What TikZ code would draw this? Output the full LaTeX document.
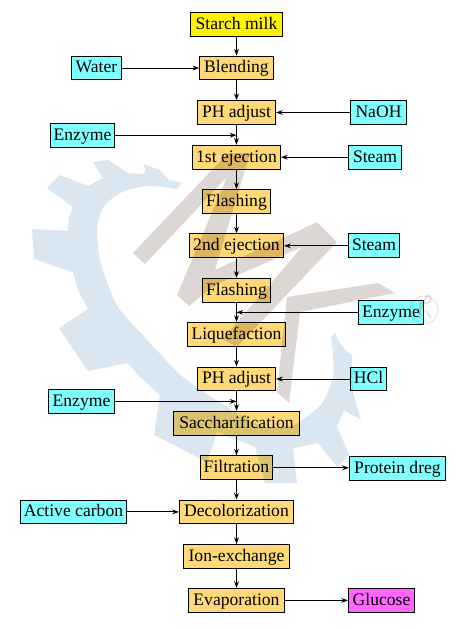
\documentclass[tikz,border=0pt]{standalone}
\usepackage{fontspec}
\setmainfont{Liberation Serif}
\usepackage{xcolor}
\usetikzlibrary{arrows.meta}
\definecolor{procfill}{HTML}{FFD978}
\definecolor{feedfill}{HTML}{80FFFF}
\definecolor{outfill}{HTML}{FF66FF}
\definecolor{gearblue}{HTML}{DAE6F0}
\definecolor{markgray}{HTML}{DCD7D4}
\tikzset{
box/.style={draw=black,line width=.8pt,inner xsep=0pt,inner ysep=2.6pt,text height=10pt,text depth=2.6pt,
font=\fontsize{13.2}{15}\selectfont},
proc/.style={box,fill=procfill},
feed/.style={box,fill=feedfill},
flow/.style={line width=.75pt,-{Stealth[length=5pt,width=3.6pt]}}
}
\begin{document}
\begin{tikzpicture}[x=.75pt,y=-.75pt]
\useasboundingbox (0,0) rectangle (470,629);
\fill[white](0,0) rectangle (470,629);
\node[box,fill=yellow,minimum width=69pt](starch)at(236.5,24.2){Starch milk};
\node[proc,minimum width=55pt](blend)at(236.5,68){Blending};
\node[proc,minimum width=58.5pt](pha)at(236.5,112.5){PH adjust};
\node[proc,minimum width=66pt](ejecta)at(236.5,157.2){1st ejection};
\node[proc,minimum width=51pt](flasha)at(236.5,201.5){Flashing};
\node[proc,minimum width=70.5pt](ejectb)at(236.5,245.8){2nd ejection};
\node[proc,minimum width=51pt](flashb)at(236.5,290.3){Flashing};
\node[proc,minimum width=73.5pt](liq)at(236.5,334.4){Liquefaction};
\node[proc,minimum width=58.5pt](phb)at(236.5,379){PH adjust};
\node[proc,minimum width=94.5pt](sacch)at(236.5,423.3){Saccharification};
\node[proc,minimum width=54pt](filt)at(236.5,467.8){Filtration};
\node[proc,minimum width=85.5pt](decol)at(236.5,511.9){Decolorization};
\node[proc,minimum width=79.5pt](ion)at(236.5,556.4){Ion-exchange};
\node[proc,minimum width=72pt](evap)at(236.5,600.4){Evaporation};
\node[feed,minimum width=37.5pt](water)at(96.5,68){Water};
\node[feed,minimum width=42pt](naoh)at(378.5,112.5){NaOH};
\node[feed,minimum width=48pt](enza)at(82.5,135.2){Enzyme};
\node[feed,minimum width=39.75pt](steama)at(375,157.2){Steam};
\node[feed,minimum width=38.25pt](steamb)at(374,245.8){Steam};
\node[feed,minimum width=48.75pt](enzb)at(391,312.4){Enzyme};
\node[feed,minimum width=27pt](hcl)at(368.5,379){HCl};
\node[feed,minimum width=49.5pt](enzc)at(81.5,401.4){Enzyme};
\node[feed,minimum width=72pt](dreg)at(397.5,468.4){Protein dreg};
\node[feed,minimum width=79.5pt](carbon)at(73.5,511.9){Active carbon};
\node[box,fill=outfill,minimum width=49.5pt](glucose)at(381.5,600.4){Glucose};
\coordinate(joina)at(236.5,135.2);
\coordinate(joinb)at(236.5,312.4);
\coordinate(joinc)at(236.5,401.4);
% main line
\foreach \a/\b in {starch/blend,blend/pha,pha/ejecta,ejecta/flasha,flasha/ejectb,ejectb/flashb,
flashb/liq,liq/phb,phb/sacch,sacch/filt,filt/decol,decol/ion,ion/evap}
\draw[flow](\a)--(\b);
% side lines
\foreach \a/\b in {water/blend.west,naoh/pha.east,enza/joina,steama/ejecta.east,steamb/ejectb.east,enzb/joinb,
hcl/phb.east,enzc/joinc,filt/dreg.west,carbon/decol.west,evap/glucose.west}
\draw[flow](\a)--(\a-|\b);
% watermark
\begin{scope}[blend mode=multiply]
\fill[gearblue](182,183)--(169,180)--(160,170)--(143,164)--(146,170)--(144,174)--(128,173)--(108,160)
--(93,162)--(103,178)--(88,186)--(60,175)--(47,188)--(73,207)--(69,218)--(68,231)--(32,229)--(34,259)
--(73,272)--(78,290)--(88,309)--(59,328)--(88,371)--(128,363)--(138,375)--(160,395)--(154,435)
--(207,462)--(217,432)--(255,447)--(265,483)--(297,483)--(293,448)--(318,443)--(337,467)--(349,455)
--(337,426)--(344,410)--(361,420)--(353,392)--(352,373)--(352,355)--(345,350)--(338,340)--(335,333)--(331,337)
--plot[smooth]coordinates{(331,337)(333,353)(333,377)(323,402)(305,418)(287,427)(260,425)(227,407)(183,377)
(150,343)(120,310)(110,290)(100,260)(97,230)(103,208)(120,193)(147,186)(177,189)}--cycle;
\fill[markgray](133,253)--(228,153)--(250,153)--(215,270)--(317,222)--(337,242)--(237,347)--(223,339)
--(302,247)--(215,285)--(189,306)--(177,295)--(227,177)--(145,264)--cycle;
\fill[markgray](287,297)--(378,283)--(395,293)--(300,312)--(289,403)--(277,392)--cycle;
\draw[black!12,line width=.6pt](424,310)circle(14);
\draw[black!12,line width=1.2pt](420,318)--(420,303)--(427,303)arc(90:-90:4)--(420,311)(426,311)--(431,318);
\end{scope}
\end{tikzpicture}
\end{document}
